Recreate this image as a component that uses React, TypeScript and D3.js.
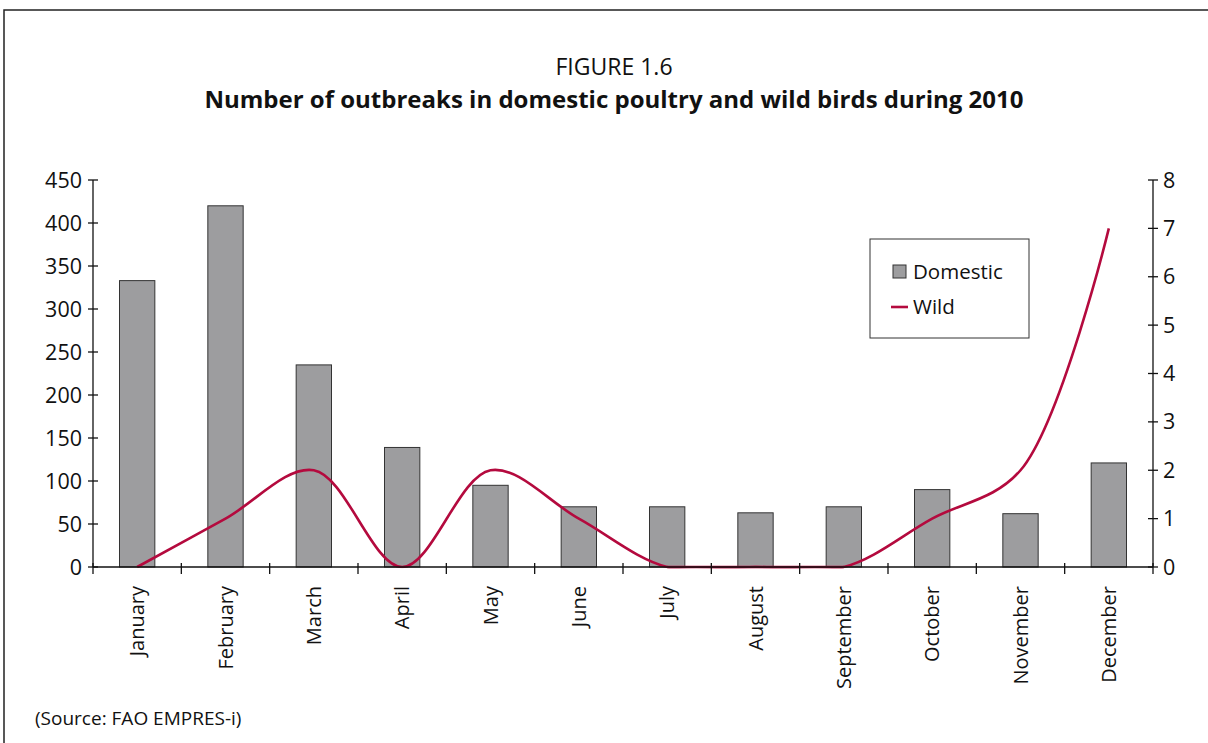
import React from "react";
import * as d3 from "d3";

// Monthly outbreak counts, 2010
const months = [
  "January", "February", "March", "April", "May", "June",
  "July", "August", "September", "October", "November", "December",
];
const domestic = [333, 420, 235, 139, 95, 70, 70, 63, 70, 90, 62, 121];
const wild = [0, 1, 2, 0, 2, 1, 0, 0, 0, 1, 2, 7];
const leftTicks = [0, 50, 100, 150, 200, 250, 300, 350, 400, 450];
const rightTicks = [0, 1, 2, 3, 4, 5, 6, 7, 8];

const W = 1208;
const H = 743;
const FONT = "'Open Sans', 'Noto Sans', sans-serif";
const BAR_FILL = "#9d9d9f";
const LINE_COLOR = "#b40a3e";

export default function App() {
  const left = 93;
  const right = 1153;
  const top = 180;
  const bottom = 567;

  const x = d3.scaleBand<string>().domain(months).range([left, right]).paddingInner(0).paddingOuter(0);
  const yL = d3.scaleLinear().domain([0, 450]).range([bottom, top]);
  const yR = d3.scaleLinear().domain([0, 8]).range([bottom, top]);
  const bw = x.bandwidth() * 0.4;
  const cx = (i: number) => (x(months[i]) as number) + x.bandwidth() / 2;

  const line = d3
    .line<number>()
    .x((_, i) => cx(i))
    .y((d) => yR(d))
    .curve(d3.curveCatmullRom.alpha(0.5));
  const path = line(wild) || "";

  // runs of consecutive zero months sit flat on the axis
  const zeroRuns: [number, number][] = [];
  wild.forEach((v, i) => {
    if (v === 0 && i > 0 && wild[i - 1] === 0) {
      const last = zeroRuns[zeroRuns.length - 1];
      if (last && last[1] === i - 1) last[1] = i;
      else zeroRuns.push([i - 1, i]);
    }
  });

  const boundaries = d3.range(months.length + 1).map((i) => left + i * x.bandwidth());

  return (
    <svg
      width={W}
      height={H}
      style={{ position: "absolute", left: 0, top: 0, background: "#fff" }}
      fontFamily={FONT}
    >
      <defs>
        <clipPath id="plotClip">
          <rect x={left} y={top - 20} width={right - left} height={bottom - top + 21.3} />
        </clipPath>
      </defs>
      {/* outer frame */}
      <rect x={4} y={10} width={W + 10} height={H + 10} fill="none" stroke="#222" strokeWidth={1.5} />

      <text x={614} y={75} textAnchor="middle" fontSize={23} fill="#111">FIGURE 1.6</text>
      <text x={614} y={108} textAnchor="middle" fontSize={24} fontWeight="bold" fill="#111">
        Number of outbreaks in domestic poultry and wild birds during 2010
      </text>

      {/* bars */}
      {domestic.map((v, i) => (
        <rect
          key={months[i]}
          x={(x(months[i]) as number) + (x.bandwidth() - bw) / 2}
          y={yL(v)}
          width={bw}
          height={yL(0) - yL(v)}
          fill={BAR_FILL}
          stroke="#333"
          strokeWidth={1}
        />
      ))}

      {/* wild birds line */}
      <path d={path} fill="none" stroke={LINE_COLOR} strokeWidth={2.6} clipPath="url(#plotClip)" />
      {zeroRuns.map(([a, b]) => (
        <line key={"z" + a} x1={cx(a)} x2={cx(b)} y1={yR(0)} y2={yR(0)} stroke={LINE_COLOR} strokeWidth={2.6} />
      ))}

      {/* left axis */}
      <line x1={left} x2={left} y1={top} y2={bottom} stroke="#111" strokeWidth={1.3} />
      {leftTicks.map((t) => (
        <g key={"l" + t}>
          <line x1={left - 5} x2={left + 5} y1={yL(t)} y2={yL(t)} stroke="#111" strokeWidth={1.3} />
          <text x={left - 11} y={yL(t)} dy="0.35em" textAnchor="end" fontSize={21.5} fill="#111">{t}</text>
        </g>
      ))}

      {/* right axis */}
      <line x1={right} x2={right} y1={top} y2={bottom} stroke="#111" strokeWidth={1.3} />
      {rightTicks.map((t) => (
        <g key={"r" + t}>
          <line x1={right - 5} x2={right + 5} y1={yR(t)} y2={yR(t)} stroke="#111" strokeWidth={1.3} />
          <text x={right + 10} y={yR(t)} dy="0.35em" textAnchor="start" fontSize={21.5} fill="#111">{t}</text>
        </g>
      ))}

      {/* category axis */}
      <line x1={left} x2={right} y1={bottom} y2={bottom} stroke="#111" strokeWidth={1.3} />
      {boundaries.map((bx, i) => (
        <line key={"b" + i} x1={bx} x2={bx} y1={bottom - 4} y2={bottom + 7} stroke="#111" strokeWidth={1.3} />
      ))}
      {months.map((m, i) => (
        <text
          key={m}
          transform={`translate(${cx(i)},${586}) rotate(-90)`}
          textAnchor="end"
          dy="0.35em"
          fontSize={20}
          fill="#111"
        >
          {m}
        </text>
      ))}

      {/* legend */}
      <rect x={870} y={239} width={159} height={99} fill="#fff" stroke="#333" strokeWidth={1} />
      <rect x={893} y={265} width={13} height={13} fill={BAR_FILL} stroke="#333" strokeWidth={1} />
      <text x={913} y={272} dy="0.35em" fontSize={20.5} fill="#111">Domestic</text>
      <line x1={891} x2={908} y1={307} y2={307} stroke={LINE_COLOR} strokeWidth={2.6} />
      <text x={913} y={307} dy="0.35em" fontSize={20.5} fill="#111">Wild</text>

      <text x={35} y={725} fontSize={19} fill="#111">(Source: FAO EMPRES-i)</text>
    </svg>
  );
}
